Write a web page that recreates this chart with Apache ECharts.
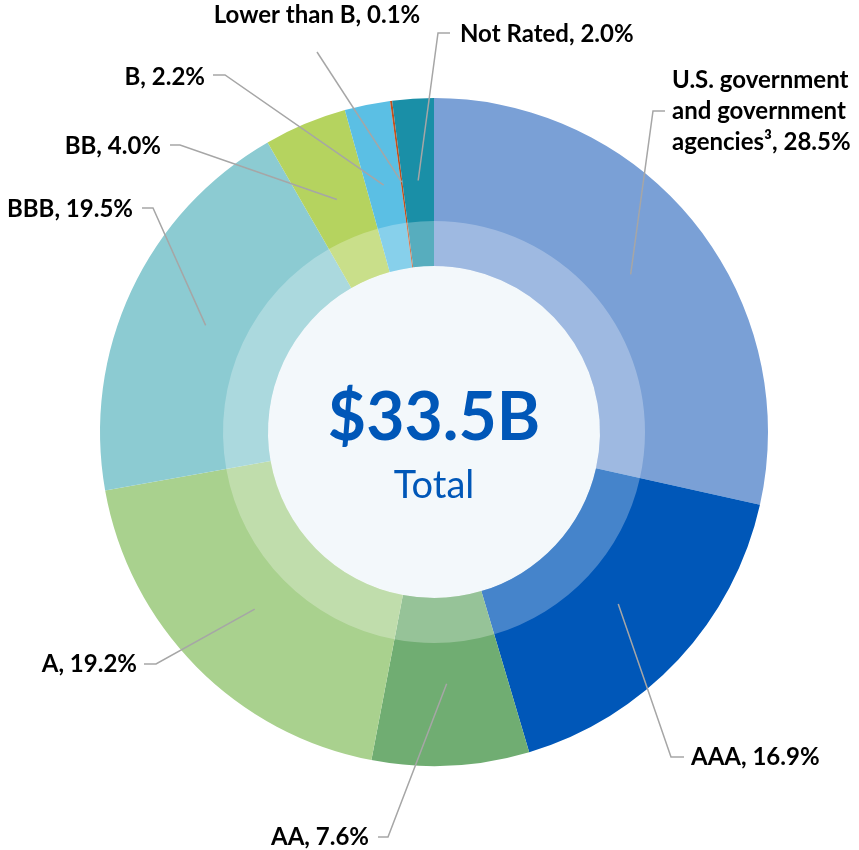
<!DOCTYPE html>
<html>
<head>
<meta charset="utf-8">
<script src="https://cdn.jsdelivr.net/npm/echarts@6/dist/echarts.min.js"></script>
<style>
  html, body { margin: 0; padding: 0; background: #fff; }
  #main { width: 859px; height: 850px; }
</style>
</head>
<body>
<div id="main"></div>
<script>
// 数据
const ratings = ['U.S. government\nand government\nagencies³', 'AAA', 'AA', 'A', 'BBB', 'BB', 'B', 'Lower than B', 'Not Rated'];
const shares = [28.5, 16.9, 7.6, 19.2, 19.5, 4.0, 2.2, 0.1, 2.0];
const totalText = '$33.5B';
const totalCaption = 'Total';

const sliceColors = ['#7aa0d6', '#0057b8', '#70ad72', '#a9d18e', '#8ccbd2', '#b5d35f', '#5bbfe4', '#c0501e', '#1a8fa7'];
// label placement: [turnX, turnY, endX, labelX, labelY, align]
const labelSpots = [
  [653, 111, 665, 672, 111, 'left'],
  [671, 757, 684, 691, 757, 'left'],
  [388, 837, 378, 369, 837, 'right'],
  [156, 664, 144, 137, 664, 'right'],
  [153, 208, 142, 133, 209, 'right'],
  [180, 145, 170, 161, 146, 'right'],
  [225, 75, 213, 205, 77, 'right'],
  [317, 52, 317, 317, 15, 'center'],
  [438, 33, 450, 460, 34, 'left']
];

const center = [434, 432];
const font = 'Lato';

let chart = echarts.init(document.getElementById('main'));
let option = {
  animation: false,
  graphic: [
    { type: 'circle', shape: { cx: center[0], cy: center[1], r: 166 }, style: { fill: '#f3f8fb' }, silent: true },
    {
      type: 'text', x: center[0], y: 419, silent: true,
      style: { text: totalText, align: 'center', verticalAlign: 'middle', fontFamily: font, fontWeight: 'bold', fontSize: 66, fill: '#0057b8' }
    },
    {
      type: 'text', x: center[0], y: 486, silent: true,
      style: { text: totalCaption, align: 'center', verticalAlign: 'middle', fontFamily: font, fontSize: 38, fill: '#0057b8' }
    }
  ],
  series: [
    {
      // 外环
      type: 'pie',
      center: center,
      radius: [166, 334],
      silent: true,
      label: { show: false },
      labelLine: { show: false },
      data: shares.map((v, i) => ({ name: ratings[i], value: v, itemStyle: { color: sliceColors[i] } }))
    },
    {
      // 内侧浅色环
      type: 'pie',
      center: center,
      radius: [166, 211],
      silent: true,
      label: { show: false },
      labelLine: { show: false },
      itemStyle: { color: 'rgba(255,255,255,0.27)' },
      data: shares.map((v, i) => ({ name: ratings[i], value: v }))
    },
    {
      // 标签
      type: 'pie',
      center: center,
      radius: [0, 252],
      silent: true,
      z: 5,
      avoidLabelOverlap: false,
      itemStyle: { color: 'rgba(0,0,0,0)' },
      label: {
        show: true,
        position: 'outside',
        fontFamily: font,
        fontWeight: 'bold',
        fontSize: 24,
        lineHeight: 31,
        color: '#000',
        formatter: (p) => p.name + ', ' + p.value.toFixed(1) + '%'
      },
      labelLine: {
        show: true,
        length: 20,
        length2: 10,
        lineStyle: { color: '#a6a6a6', width: 1.5 }
      },
      labelLayout: function (p) {
        const s = labelSpots[p.dataIndex];
        const start = p.labelLinePoints[0];
        return {
          x: s[3],
          y: s[4],
          align: s[5],
          verticalAlign: 'middle',
          labelLinePoints: [start, [s[0], s[1]], [s[2], s[1]]]
        };
      },
      data: shares.map((v, i) => ({ name: ratings[i], value: v }))
    }
  ]
};
chart.setOption(option);
</script>
</body>
</html>
